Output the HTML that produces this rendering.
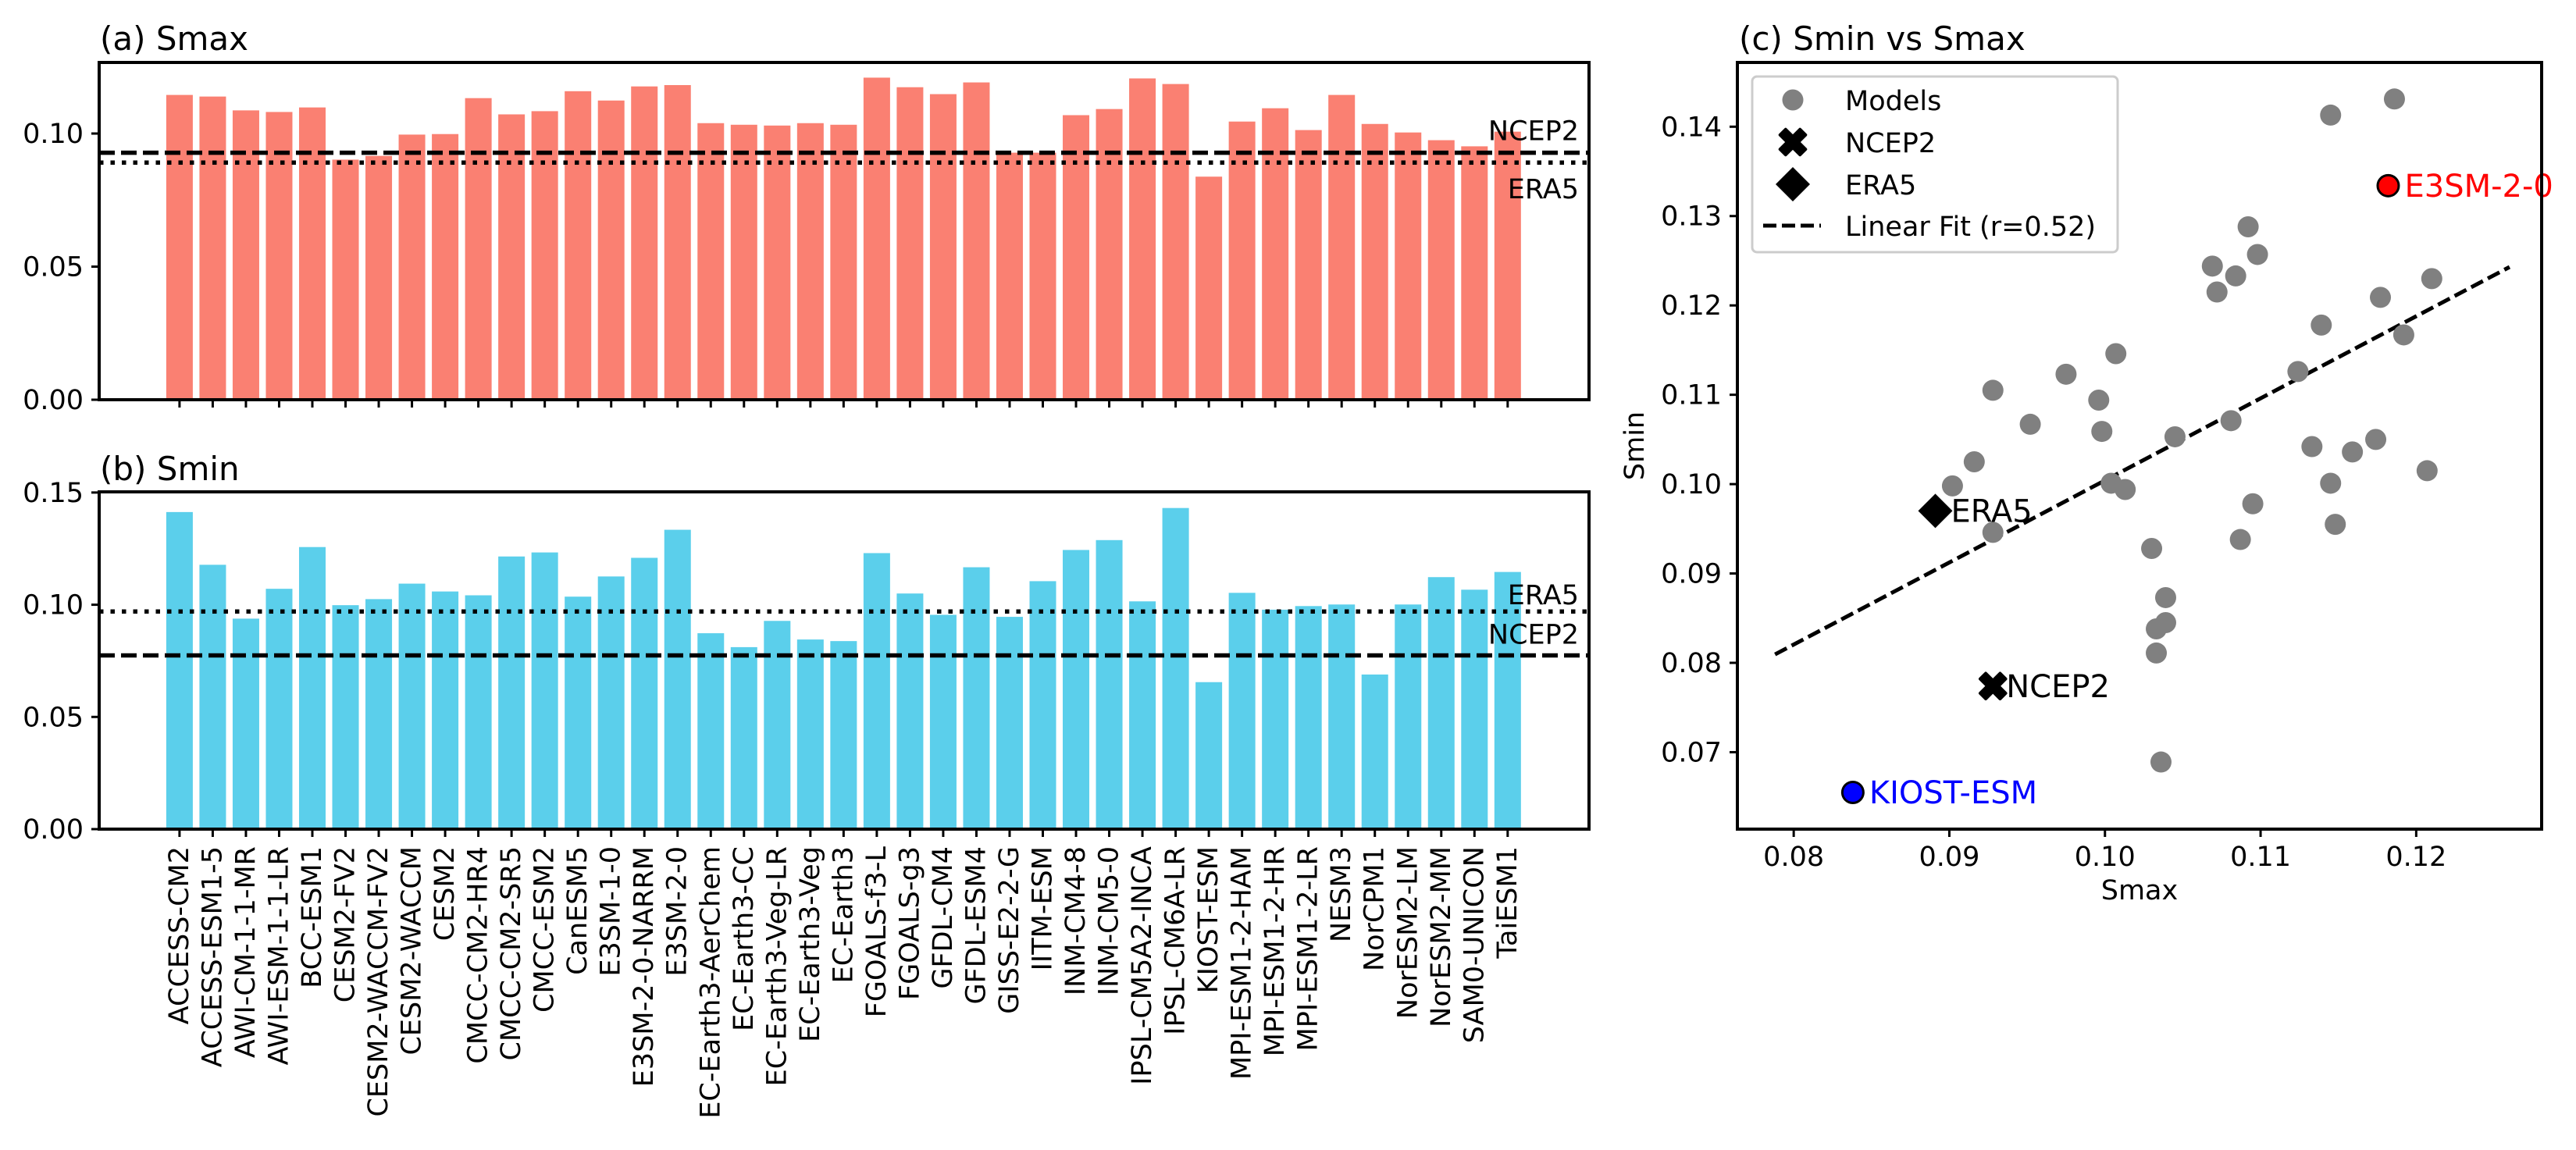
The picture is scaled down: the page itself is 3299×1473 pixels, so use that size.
<!DOCTYPE html>
<html><head><meta charset="utf-8"><style>
html,body{margin:0;padding:0;background:#fff;}
svg{display:block;font-family:"DejaVu Sans","Liberation Sans",sans-serif;}
</style></head><body>
<svg id="fig" width="3299" height="1473" viewBox="0 0 3299 1473" xmlns="http://www.w3.org/2000/svg"></svg>
<script>
const models = ["ACCESS-CM2","ACCESS-ESM1-5","AWI-CM-1-1-MR","AWI-ESM-1-1-LR","BCC-ESM1","CESM2-FV2","CESM2-WACCM-FV2","CESM2-WACCM","CESM2","CMCC-CM2-HR4","CMCC-CM2-SR5","CMCC-ESM2","CanESM5","E3SM-1-0","E3SM-2-0-NARRM","E3SM-2-0","EC-Earth3-AerChem","EC-Earth3-CC","EC-Earth3-Veg-LR","EC-Earth3-Veg","EC-Earth3","FGOALS-f3-L","FGOALS-g3","GFDL-CM4","GFDL-ESM4","GISS-E2-2-G","IITM-ESM","INM-CM4-8","INM-CM5-0","IPSL-CM5A2-INCA","IPSL-CM6A-LR","KIOST-ESM","MPI-ESM1-2-HAM","MPI-ESM1-2-HR","MPI-ESM1-2-LR","NESM3","NorCPM1","NorESM2-LM","NorESM2-MM","SAM0-UNICON","TaiESM1"];
const smax = [0.1145,0.1139,0.1087,0.1081,0.1098,0.0902,0.0916,0.0996,0.0998,0.1133,0.1072,0.1084,0.1159,0.1124,0.1177,0.1182,0.1039,0.1033,0.1030,0.1039,0.1033,0.1210,0.1174,0.1148,0.1192,0.0928,0.0928,0.1069,0.1092,0.1207,0.1186,0.0838,0.1045,0.1095,0.1013,0.1145,0.1036,0.1004,0.0975,0.0952,0.1007];
const smin = [0.1413,0.1178,0.0938,0.1071,0.1257,0.0998,0.1025,0.1094,0.1059,0.1042,0.1215,0.1233,0.1036,0.1126,0.1209,0.1334,0.0873,0.0811,0.0928,0.0845,0.0838,0.1230,0.1050,0.0955,0.1167,0.0946,0.1105,0.1244,0.1288,0.1015,0.1431,0.0655,0.1053,0.0978,0.0994,0.1001,0.0689,0.1001,0.1123,0.1067,0.1146];
const ncep2 = [0.0928, 0.0774];  // [Smax, Smin]
const era5 = [0.0891, 0.0970];
const smaxTicks = [0.00, 0.05, 0.10];
const sminTicks = [0.00, 0.05, 0.10, 0.15];
const scXTicks = [0.08, 0.09, 0.10, 0.11, 0.12];
const scYTicks = [0.07, 0.08, 0.09, 0.10, 0.11, 0.12, 0.13, 0.14];
const highlight = {"E3SM-2-0":"#ff0000","KIOST-ESM":"#0000ff"};
const fitLabel = "Linear Fit (r=0.52)";

const NS="http://www.w3.org/2000/svg";
const svg=document.getElementById('fig');
function el(tag, attrs, parent, text){
  const e=document.createElementNS(NS,tag);
  for(const k in attrs) e.setAttribute(k, attrs[k]);
  if(text!==undefined) e.textContent=text;
  (parent||svg).appendChild(e);
  return e;
}
const FS=35;

const barX0=127, barX1=2035, xlimL=-2.42, xlimR=42.45;
function bx(i){ return barX0 + (i - xlimL)/(xlimR-xlimL)*(barX1-barX0); }
const bw = 0.8*(bx(1)-bx(0));

function barPanel(cfg){
  const g=el('g',{});
  
  
  const y=v=> cfg.y0 - (v-0)/(cfg.ymax)*(cfg.y0-cfg.yTop);
  cfg.vals.forEach((v,i)=>{
    const r=el('rect',{x:bx(i)-bw/2,y:y(v),width:bw,height:cfg.y0-y(v),fill:cfg.color},g);
    
    
  });
  const nl=el('line',{x1:barX0,x2:barX1,y1:y(cfg.ncep),y2:y(cfg.ncep),stroke:'#000','stroke-width':5.5,'stroke-dasharray':'20 8'},g);
   
  const el5=el('line',{x1:barX0,x2:barX1,y1:y(cfg.era),y2:y(cfg.era),stroke:'#000','stroke-width':5.5,'stroke-dasharray':'5.5 9'},g);
   
  const nt=el('text',{x:2022,y:y(cfg.ncep)+cfg.ncepOff,'font-size':FS,'text-anchor':'end'},g,'NCEP2');
   
  const et=el('text',{x:2022,y:y(cfg.era)+cfg.eraOff,'font-size':FS,'text-anchor':'end'},g,'ERA5');
   
  const fr=el('rect',{x:barX0,y:cfg.yTop,width:barX1-barX0,height:cfg.y0-cfg.yTop,fill:'none',stroke:'#000','stroke-width':4},g);
   
  cfg.ticks.forEach(t=>{
    el('line',{x1:barX0-10,x2:barX0,y1:y(t),y2:y(t),stroke:'#000','stroke-width':3},g);
    const tl=el('text',{x:107,y:y(t)+12,'font-size':FS,'text-anchor':'end'},g,t.toFixed(2));
     
  });
  models.forEach((m,i)=>{
    el('line',{x1:bx(i),x2:bx(i),y1:cfg.y0,y2:cfg.y0+10,stroke:'#000','stroke-width':3},g);
    if(cfg.labels){
      const t=el('text',{x:bx(i),y:cfg.y0+22,'font-size':FS,'text-anchor':'end','dominant-baseline':'central',transform:`rotate(-90 ${bx(i)} ${cfg.y0+22})`},g,m);
       
    }
  });
  const ti=el('text',{x:128,y:cfg.titleY,'font-size':42},g,cfg.title);
   
}
barPanel({name:'smax-bar-panel',vals:smax,color:'#fa8072',y0:512,yTop:80,ymax:0.1267,ticks:smaxTicks,ncep:ncep2[0],era:era5[0],ncepOff:-16,eraOff:46,title:'(a) Smax',titleY:64,labels:false});
barPanel({name:'smin-bar-panel',vals:smin,color:'#5bcfeb',y0:1062,yTop:630,ymax:0.1503,ticks:sminTicks,ncep:ncep2[1],era:era5[1],ncepOff:-15,eraOff:-9,title:'(b) Smin',titleY:615,labels:true});

const sL=2225,sR=3255,sT=80,sB=1062;
const sxlim=[0.07638,0.12806], sylim=[0.06139,0.14719];
function sx(v){return sL+(v-sxlim[0])/(sxlim[1]-sxlim[0])*(sR-sL);}
function sy(v){return sB-(v-sylim[0])/(sylim[1]-sylim[0])*(sB-sT);}
const sg=el('g',{});


let n=smax.length,mx=0,my=0;
smax.forEach((v,i)=>{mx+=v;my+=smin[i];}); mx/=n; my/=n;
let sxy=0,sxx=0; smax.forEach((v,i)=>{sxy+=(v-mx)*(smin[i]-my); sxx+=(v-mx)*(v-mx);});
const slope=sxy/sxx, icpt=my-slope*mx;
const fx0=Math.min(...smax)-0.005, fx1=Math.max(...smax)+0.005;
const fl=el('line',{x1:sx(fx0),y1:sy(slope*fx0+icpt),x2:sx(fx1),y2:sy(slope*fx1+icpt),stroke:'#000','stroke-width':5,'stroke-dasharray':'17 7'},sg);
 
smax.forEach((v,i)=>{
  if(highlight[models[i]]) return;
  const c=el('circle',{cx:sx(v),cy:sy(smin[i]),r:13.5,fill:'#808080'},sg);
  
  
});
smax.forEach((v,i)=>{
  const col=highlight[models[i]]; if(!col) return;
  const c=el('circle',{cx:sx(v),cy:sy(smin[i]),r:13.5,fill:col,stroke:'#000','stroke-width':3},sg);
  
  
  const t=el('text',{x:sx(v)+21,y:sy(smin[i])+14,'font-size':40,fill:col},sg,models[i]);
  
  
});
function xMarker(cx,cy,s,parent){
  const g=el('g',{},parent);
  el('rect',{x:cx-s,y:cy-7,width:2*s,height:14,rx:2,fill:'#000',transform:`rotate(45 ${cx} ${cy})`},g);
  el('rect',{x:cx-s,y:cy-7,width:2*s,height:14,rx:2,fill:'#000',transform:`rotate(-45 ${cx} ${cy})`},g);
  return g;
}
function diamond(cx,cy,s,parent){
  return el('path',{d:`M${cx},${cy-s} L${cx+s},${cy} L${cx},${cy+s} L${cx-s},${cy} Z`,fill:'#000'},parent);
}
const nm=xMarker(sx(ncep2[0]),sy(ncep2[1]),20,sg);
 
const ntx=el('text',{x:sx(ncep2[0])+17,y:sy(ncep2[1])+14,'font-size':40},sg,'NCEP2');
 
const dm=diamond(sx(era5[0]),sy(era5[1]),22,sg);
 
const etx=el('text',{x:sx(era5[0])+20,y:sy(era5[1])+14,'font-size':40},sg,'ERA5');
 
const sfr=el('rect',{x:sL,y:sT,width:sR-sL,height:sB-sT,fill:'none',stroke:'#000','stroke-width':4},sg);
 
scXTicks.forEach(t=>{
  el('line',{x1:sx(t),x2:sx(t),y1:sB,y2:sB+10,stroke:'#000','stroke-width':3},sg);
  const tl=el('text',{x:sx(t),y:1109,'font-size':FS,'text-anchor':'middle'},sg,t.toFixed(2));
   
});
scYTicks.forEach(t=>{
  el('line',{x1:sL-10,x2:sL,y1:sy(t),y2:sy(t),stroke:'#000','stroke-width':3},sg);
  const tl=el('text',{x:2205,y:sy(t)+12,'font-size':FS,'text-anchor':'end'},sg,t.toFixed(2));
   
});
const xlab=el('text',{x:(sL+sR)/2,y:1152,'font-size':FS,'text-anchor':'middle'},sg,'Smax');
 
const ylab=el('text',{x:2105,y:(sT+sB)/2,'font-size':FS,'text-anchor':'middle',transform:`rotate(-90 2105 ${(sT+sB)/2})`},sg,'Smin');
 
const stt=el('text',{x:2227,y:64,'font-size':42},sg,'(c) Smin vs Smax');
 
const lg=el('g',{},sg);


el('rect',{x:2244,y:98,width:468,height:225,rx:6,fill:'#fff','fill-opacity':0.85,stroke:'#cccccc','stroke-width':3},lg);
const l1=el('circle',{cx:2296,cy:128,r:13.5,fill:'#808080'},lg);
 
const l2=xMarker(2296,182,20,lg);
 
const l3=diamond(2296,236,22,lg);
 
const l4=el('line',{x1:2258,x2:2332,y1:289,y2:289,stroke:'#000','stroke-width':5,'stroke-dasharray':'17 7'},lg);
 
[["Models",128],["NCEP2",182],["ERA5",236],[fitLabel,289]].forEach(([t,yy])=>{
  const tx=el('text',{x:2363,y:yy+13,'font-size':FS},lg,t);
   
});
</script>
</body></html>
